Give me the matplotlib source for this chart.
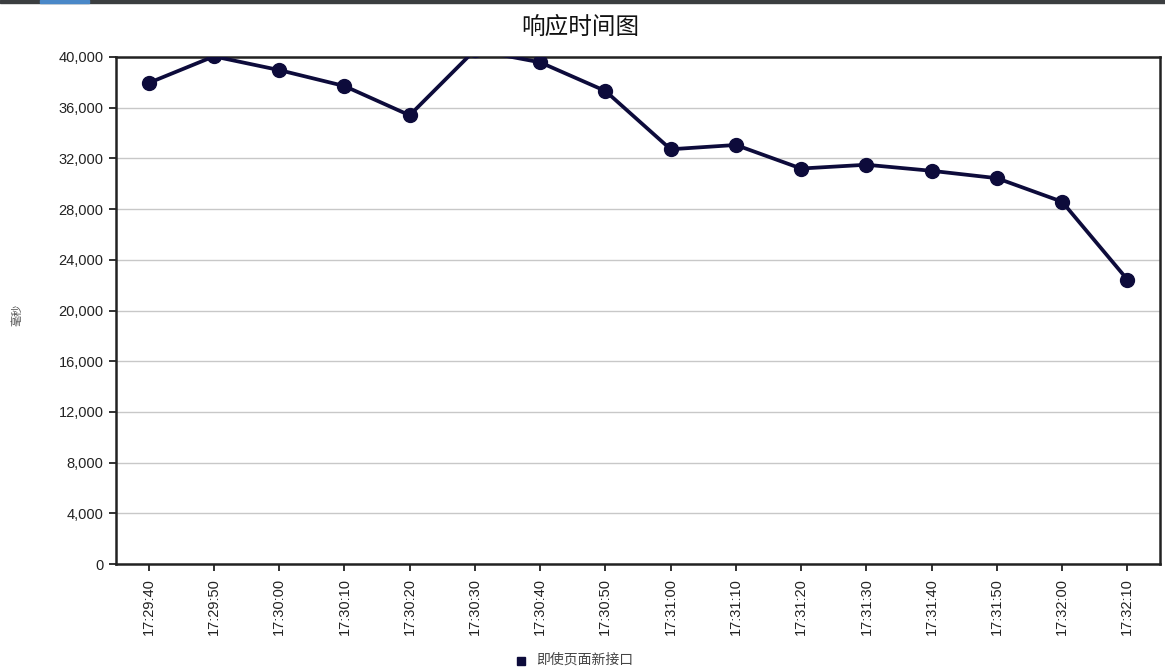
import matplotlib
matplotlib.use('Agg')
import matplotlib.pyplot as plt
from matplotlib.patches import Rectangle
from matplotlib.ticker import FuncFormatter, MultipleLocator

# DATA #######################################################################

times = ['17:29:40', '17:29:50', '17:30:00', '17:30:10', '17:30:20', '17:30:30',
         '17:30:40', '17:30:50', '17:31:00', '17:31:10', '17:31:20', '17:31:30',
         '17:31:40', '17:31:50', '17:32:00', '17:32:10']
resp_ms = [37950, 40050, 38970, 37710, 35400, 40550,
           39580, 37320, 32720, 33060, 31200, 31500,
           31020, 30440, 28580, 22440]
series_name = '即使页面新接口'
title = '响应时间图'
y_label = '毫秒'

# STYLE ######################################################################

line_color = '#0d0b3b'
plt.rcParams['font.family'] = ['Liberation Sans', 'Noto Sans CJK SC', 'DejaVu Sans']

W, H = 1165, 669
fig = plt.figure(figsize=(W / 100, H / 100), dpi=100)
ax = fig.add_axes([116 / W, 1 - 564 / H, (1160 - 116) / W, (564 - 57) / H])

x = list(range(len(times)))
ax.plot(x, resp_ms, color=line_color, lw=2.7, marker='o', ms=10,
        solid_joinstyle='round', clip_on=True, zorder=3)

ax.set_xlim(-0.5, len(times) - 0.5)
ax.set_ylim(0, 40000)
ax.yaxis.set_major_locator(MultipleLocator(4000))
ax.yaxis.set_major_formatter(FuncFormatter(lambda v, p: f'{int(v):,}'))
ax.set_xticks(x)
ax.set_xticklabels(times, rotation=90)
ax.grid(axis='y', color='#c8c8c8', lw=1)
ax.set_axisbelow(True)
for s in ax.spines.values():
    s.set_linewidth(1.8)
    s.set_color('#222222')
ax.tick_params(axis='both', direction='out', length=5, width=1.3,
               labelsize=10.5, colors='#222222', pad=4)
ax.tick_params(axis='x', pad=5)

fig.text(580 / W, 1 - 27 / H, title, ha='center', va='center', fontsize=17,
         fontweight='medium', family=['Noto Sans CJK SC'], color='#111111')
fig.text(17 / W, 1 - 315 / H, y_label, ha='center', va='center', fontsize=8,
         rotation=90, family=['Noto Sans CJK SC'], color='#555555')

# legend at the bottom
fig.patches.append(Rectangle((517 / W, 1 - 665 / H), 8 / W, 8 / H,
                             transform=fig.transFigure, color=line_color))
fig.text(536 / W, 1 - 660 / H, series_name, ha='left', va='center', fontsize=10,
         family=['Noto Sans CJK SC'], color='#444444')

# window chrome at the top
fig.patches.append(Rectangle((0, 1 - 3 / H), 1, 3 / H, transform=fig.transFigure,
                             color='#3b3e40'))
fig.patches.append(Rectangle((40 / W, 1 - 3 / H), 49 / W, 3 / H,
                             transform=fig.transFigure, color='#4a88c8'))

fig.savefig('out.png', dpi=100)
